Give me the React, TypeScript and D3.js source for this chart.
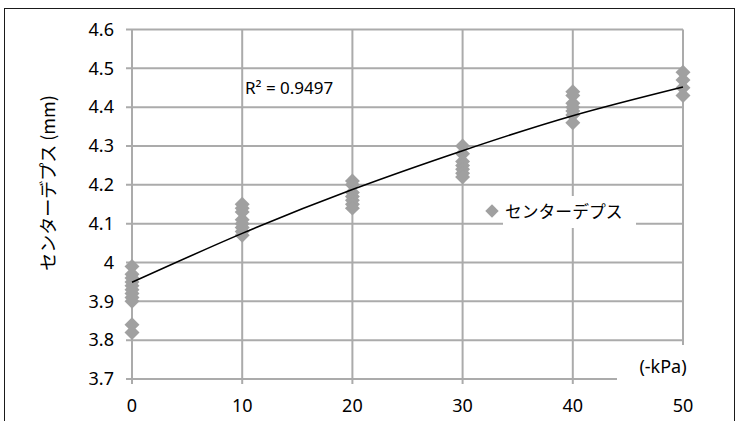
import React, { useEffect, useRef } from 'react';
import * as d3 from 'd3';

// suction (-kPa) on x, center depth (mm) on y
const pressures = [0, 10, 20, 30, 40, 50];
const depthsAt0 = [3.99, 3.97, 3.96, 3.95, 3.94, 3.93, 3.92, 3.91, 3.9, 3.84, 3.82];
const depthsAt10 = [4.15, 4.14, 4.13, 4.11, 4.1, 4.09, 4.08, 4.07];
const depthsAt20 = [4.21, 4.2, 4.18, 4.17, 4.16, 4.15, 4.14];
const depthsAt30 = [4.3, 4.28, 4.26, 4.25, 4.24, 4.23, 4.22];
const depthsAt40 = [4.44, 4.43, 4.41, 4.4, 4.39, 4.38, 4.36];
const depthsAt50 = [4.49, 4.47, 4.45, 4.43];
const depthGroups = [depthsAt0, depthsAt10, depthsAt20, depthsAt30, depthsAt40, depthsAt50];

// trendline
const trendX = [0, 10, 20, 30, 40, 50];
const trendY = [3.949, 4.075, 4.188, 4.288, 4.378, 4.452];

const yTicks = [3.7, 3.8, 3.9, 4.0, 4.1, 4.2, 4.3, 4.4, 4.5, 4.6];
const seriesName = 'センターデプス';
const yTitle = 'センターデプス (mm)';
const xUnit = '(-kPa)';
const r2Label = 'R² = 0.9497';

const LATIN = '"Noto Sans", "Open Sans", sans-serif';
const CJK = '"Noto Sans CJK JP", "Noto Sans", sans-serif';

const ChartSvg = () => {
  const ref = useRef(null);

  useEffect(() => {
    if (!ref.current) return;
    const W = 736;
    const H = 421;
    const plot = { left: 132, right: 683, top: 29.5, bottom: 379 };
    const gridColor = '#ababab';
    const markColor = '#a0a0a0';

    d3.select(ref.current).selectAll('*').remove();
    const svg = d3.select(ref.current)
      .append('svg')
      .attr('width', W)
      .attr('height', H)
      .style('display', 'block');

    svg.append('rect').attr('width', W).attr('height', H).attr('fill', '#fff');
    // outer chart border
    svg.append('rect')
      .attr('x', 4.5).attr('y', 8.5)
      .attr('width', 730).attr('height', 430)
      .attr('fill', 'none').attr('stroke', '#1a1a1a').attr('stroke-width', 1);

    const x = d3.scaleLinear().domain([0, 50]).range([plot.left, plot.right]);
    const y = d3.scaleLinear().domain([3.7, 4.6]).range([plot.bottom, plot.top]);

    // horizontal gridlines + left ticks
    yTicks.forEach(t => {
      svg.append('line')
        .attr('x1', plot.left - 6).attr('x2', plot.right)
        .attr('y1', y(t)).attr('y2', y(t))
        .attr('stroke', gridColor).attr('stroke-width', 2);
      svg.append('text')
        .attr('x', 114).attr('y', y(t))
        .attr('dy', '0.35em')
        .attr('text-anchor', 'end')
        .style('font-family', LATIN).style('font-size', '18px').style('fill', '#000')
        .text(d3.format('~g')(t));
    });

    // vertical gridlines + bottom ticks
    pressures.forEach(p => {
      svg.append('line')
        .attr('x1', x(p)).attr('x2', x(p))
        .attr('y1', plot.top).attr('y2', plot.bottom + 5)
        .attr('stroke', gridColor).attr('stroke-width', 2);
      svg.append('text')
        .attr('x', x(p)).attr('y', 406)
        .attr('dy', '0.35em')
        .attr('text-anchor', 'middle')
        .style('font-family', LATIN).style('font-size', '18px').style('fill', '#000')
        .text(p);
    });

    const diamond = d3.symbol().type(d3.symbolSquare).size(112);

    // data points
    depthGroups.forEach((vals, i) => {
      vals.forEach(v => {
        svg.append('path')
          .attr('d', diamond())
          .attr('transform', `translate(${x(pressures[i])},${y(v)}) rotate(45)`)
          .attr('fill', markColor);
      });
    });

    // trendline
    const line = d3.line()
      .x(d => x(d[0]))
      .y(d => y(d[1]))
      .curve(d3.curveNatural);
    svg.append('path')
      .datum(trendX.map((t, i) => [t, trendY[i]]))
      .attr('d', line)
      .attr('fill', 'none')
      .attr('stroke', '#000')
      .attr('stroke-width', 1.6);

    // R² label
    svg.append('text')
      .attr('x', 245).attr('y', 88)
      .attr('dy', '0.35em')
      .style('font-family', LATIN).style('font-size', '17px').style('fill', '#000')
      .text(r2Label);

    // legend
    svg.append('rect')
      .attr('x', 503).attr('y', 196)
      .attr('width', 133).attr('height', 32)
      .attr('fill', '#fff');
    svg.append('path')
      .attr('d', d3.symbol().type(d3.symbolSquare).size(90)())
      .attr('transform', 'translate(492,211) rotate(45)')
      .attr('fill', markColor);
    svg.append('text')
      .attr('x', 505).attr('y', 212)
      .attr('dy', '0.35em')
      .style('font-family', CJK).style('font-size', '16.8px').style('fill', '#000')
      .text(seriesName);

    // x unit label, masks the axis end
    svg.append('rect')
      .attr('x', 617).attr('y', 345)
      .attr('width', 80).attr('height', 44)
      .attr('fill', '#fff');
    svg.append('text')
      .attr('x', 663).attr('y', 367)
      .attr('dy', '0.35em')
      .attr('text-anchor', 'middle')
      .style('font-family', LATIN).style('font-size', '18px').style('fill', '#000')
      .text(xUnit);

    // y title
    svg.append('text')
      .attr('transform', `translate(49,${183}) rotate(-90)`)
      .attr('dy', '0.35em')
      .attr('text-anchor', 'middle')
      .style('font-family', CJK).style('font-size', '18px').style('fill', '#000')
      .text(yTitle);
  }, []);

  return <div ref={ref} style={{ position: 'absolute', left: 0, top: 0 }} />;
};

export default function App() {
  return <ChartSvg />;
}
